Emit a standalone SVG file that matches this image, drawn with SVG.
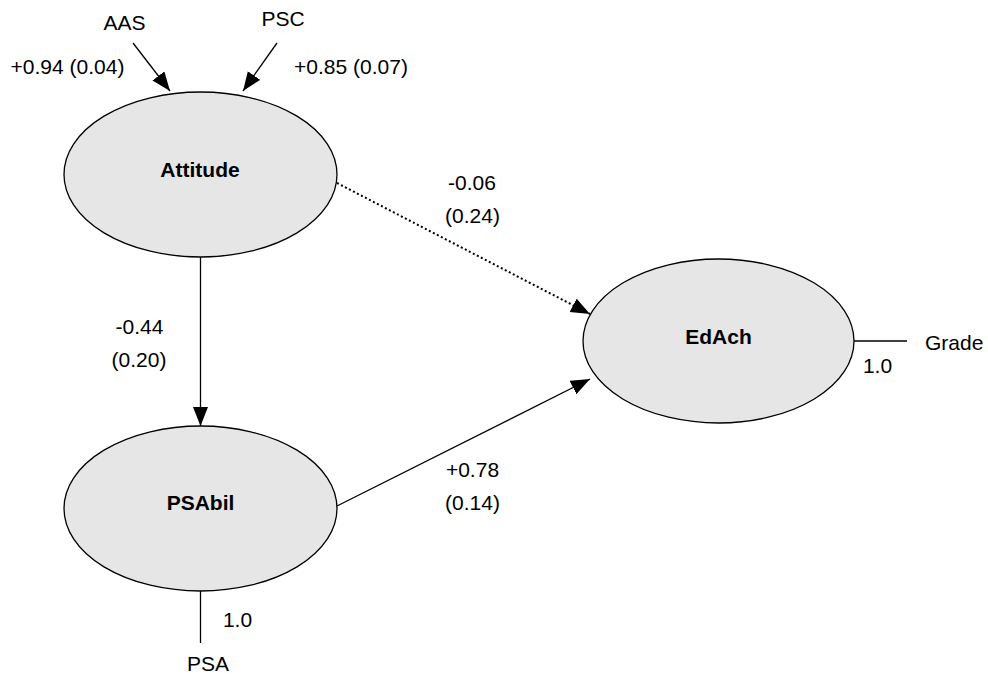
<svg xmlns="http://www.w3.org/2000/svg" width="988" height="677" viewBox="0 0 988 677">
  <style>
    .node ellipse { fill: #e6e6e6; stroke: #000; stroke-width: 1.3; }
    .lbl { font-family: "Liberation Sans", Arial, sans-serif; font-size: 21px; fill: #000; }
    .bold { font-weight: bold; }
    .mid { text-anchor: middle; }
    .conn { stroke: #000; stroke-width: 1.3; fill: none; }
    .arrow { marker-end: url(#ah); }
    .dot { stroke-dasharray: 2 2.5; stroke-width: 2; }
  </style>
  <defs>
    <marker id="ah" markerUnits="userSpaceOnUse" markerWidth="22" markerHeight="16" refX="19" refY="7.5" orient="auto">
      <path d="M0,0 L19,7.5 L0,15 Z" fill="#000"/>
    </marker>
  </defs>
  <rect width="988" height="677" fill="#fff"/>

  <g id="connectors">
    <line class="conn arrow" x1="133" y1="43" x2="170" y2="91"/>
    <line class="conn arrow" x1="277" y1="43" x2="243" y2="91"/>
    <line class="conn arrow" x1="200.5" y1="257" x2="200.5" y2="426"/>
    <line class="conn arrow dot" x1="337" y1="183" x2="590" y2="314"/>
    <line class="conn arrow" x1="337" y1="506" x2="590" y2="379"/>
    <line class="conn" x1="854" y1="341" x2="907" y2="341"/>
    <line class="conn" x1="200.5" y1="591" x2="200.5" y2="643"/>
  </g>

  <g id="node-attitude" class="node">
    <ellipse cx="200.5" cy="174.5" rx="136.5" ry="82.5"/>
    <text class="lbl bold mid" x="200" y="177">Attitude</text>
  </g>
  <g id="node-psabil" class="node">
    <ellipse cx="200.5" cy="508.5" rx="136.5" ry="82.5"/>
    <text class="lbl bold mid" x="200.5" y="510">PSAbil</text>
  </g>
  <g id="node-edach" class="node">
    <ellipse cx="718.5" cy="341" rx="135.5" ry="82"/>
    <text class="lbl bold mid" x="718.5" y="344">EdAch</text>
  </g>

  <g id="labels">
    <text class="lbl mid" x="124.5" y="30">AAS</text>
    <text class="lbl mid" x="283" y="26">PSC</text>
    <text class="lbl mid" x="67.5" y="74">+0.94 (0.04)</text>
    <text class="lbl mid" x="351" y="74">+0.85 (0.07)</text>
    <text class="lbl mid" x="472" y="190">-0.06</text>
    <text class="lbl mid" x="472.5" y="223">(0.24)</text>
    <text class="lbl mid" x="139.5" y="334">-0.44</text>
    <text class="lbl mid" x="139" y="367">(0.20)</text>
    <text class="lbl mid" x="472.5" y="477">+0.78</text>
    <text class="lbl mid" x="472.5" y="510">(0.14)</text>
    <text class="lbl" x="925" y="350">Grade</text>
    <text class="lbl mid" x="877.5" y="373">1.0</text>
    <text class="lbl mid" x="237.5" y="627">1.0</text>
    <text class="lbl mid" x="208" y="671">PSA</text>
  </g>
</svg>
